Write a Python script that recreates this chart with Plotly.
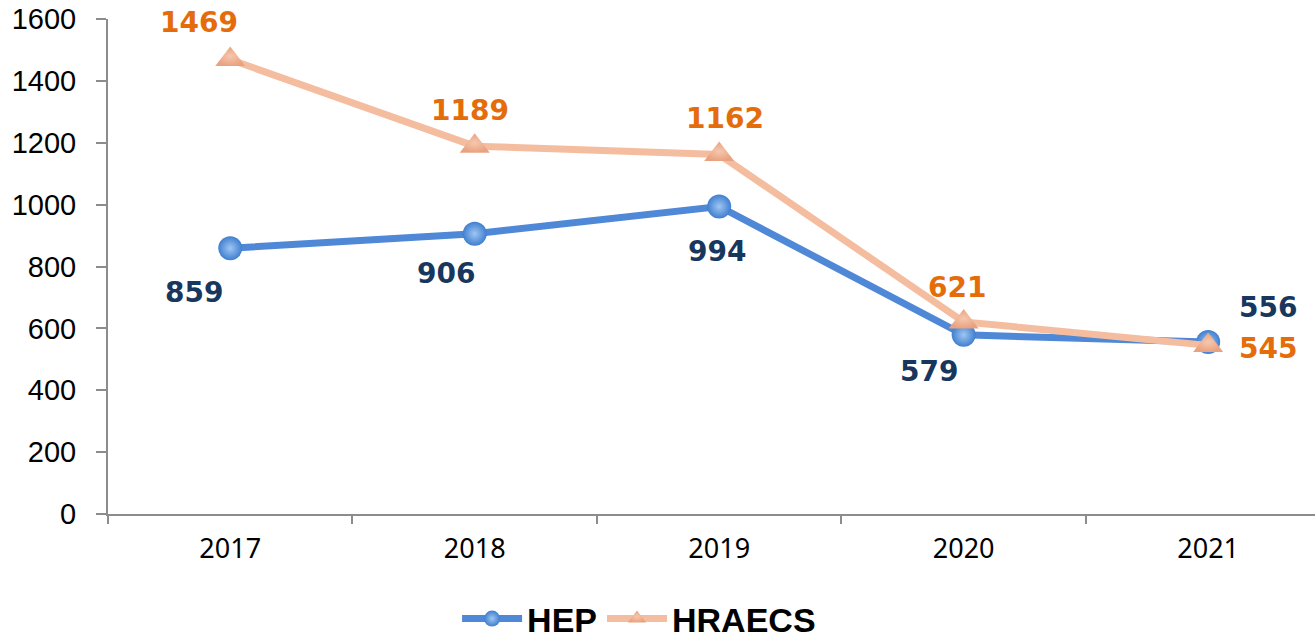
import plotly.graph_objects as go

years = ["2017", "2018", "2019", "2020", "2021"]
hep = [859, 906, 994, 579, 556]
hraecs = [1469, 1189, 1162, 621, 545]
y_ticks = [0, 200, 400, 600, 800, 1000, 1200, 1400, 1600]

HEP_LINE = "#4F88D6"
HEP_MARK = "#3F7FD0"
HEP_TEXT = "#17375E"
HR_LINE = "#F5BDA0"
HR_MARK = "#E9A27F"
HR_TEXT = "#E46C0A"

fig = go.Figure()
fig.add_trace(go.Scatter(
    x=years, y=hep, name="<b>HEP</b>", mode="lines+markers",
    line=dict(color=HEP_LINE, width=7),
    marker=dict(symbol="circle", size=24, color=HEP_MARK,
                gradient=dict(type="radial", color="#9FC6F2"),
                line=dict(width=0)),
))
fig.add_trace(go.Scatter(
    x=years, y=hraecs, name="<b>HRAECS</b>", mode="lines+markers",
    line=dict(color=HR_LINE, width=7),
    marker=dict(symbol="triangle-up", size=26, color=HR_MARK,
                gradient=dict(type="radial", color="#F6C7AE"),
                line=dict(width=0)),
))

# label offsets (pixels) for readability
hep_off = [(-36, -44), (-29, -40), (-2, -45), (-35, -37), (60, 34)]
hr_off = [(-31, 37), (-5, 36), (6, 36), (-7, 34), (60, -3)]
lab_font = "DejaVu Sans"
for i, yr in enumerate(years):
    fig.add_annotation(xref="x", yref="y", x=i, y=hep[i], text="<b>%d</b>" % hep[i],
                       showarrow=False,
                       xshift=hep_off[i][0], yshift=hep_off[i][1],
                       font=dict(family=lab_font, size=28, color=HEP_TEXT))
    fig.add_annotation(xref="x", yref="y", x=i, y=hraecs[i], text="<b>%d</b>" % hraecs[i],
                       showarrow=False,
                       xshift=hr_off[i][0], yshift=hr_off[i][1],
                       font=dict(family=lab_font, size=28, color=HR_TEXT))

fig.update_layout(
    width=1315, height=642,
    margin=dict(l=108, r=0, t=19, b=128, autoexpand=False),
    paper_bgcolor="white", plot_bgcolor="rgba(0,0,0,0)",
    showlegend=True,
    legend=dict(orientation="h", x=0.44, xanchor="center", y=-0.212, yanchor="middle",
                font=dict(family="Liberation Sans", size=34, color="black"),
                itemwidth=60, bgcolor="rgba(0,0,0,0)"),
)
fig.update_xaxes(
    type="category", range=[-0.5, 4.437],
    showline=True, linecolor="#8C8C8C", linewidth=2,
    ticks="outside", tickson="boundaries", ticklen=8, tickcolor="#8C8C8C", tickwidth=2,
    showgrid=False, zeroline=False, ticklabelstandoff=10,
    tickfont=dict(family="Noto Sans", size=27, color="black"),
)
fig.update_yaxes(
    range=[0, 1600], tickvals=y_ticks,
    showline=True, linecolor="#8C8C8C", linewidth=2,
    ticks="outside", ticklen=10, tickcolor="#8C8C8C", tickwidth=2,
    showgrid=False, zeroline=False, ticklabelstandoff=14,
    tickfont=dict(family="Liberation Sans", size=29, color="black"),
)

fig.write_html("out.html", config={"displayModeBar": False},
               post_script="document.body.style.margin='0';document.body.style.overflow='hidden';")
